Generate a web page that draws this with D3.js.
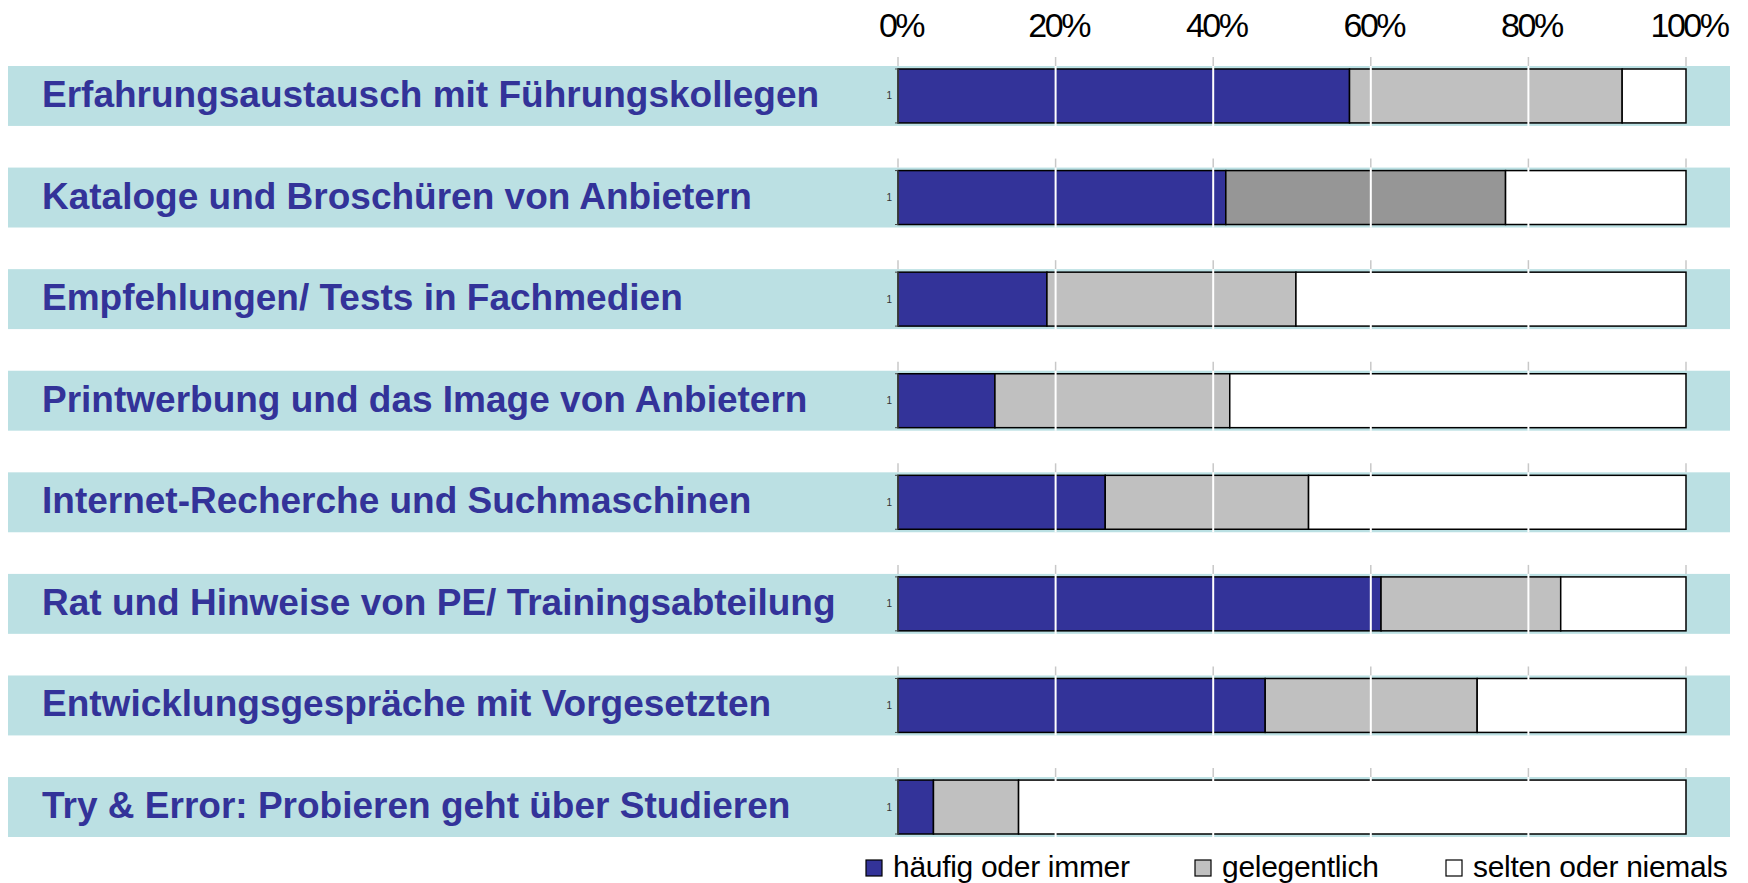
<!DOCTYPE html>
<html>
<head>
<meta charset="utf-8">
<script src="https://cdn.jsdelivr.net/npm/d3@7"></script>
<style>
  html, body { margin: 0; padding: 0; background: #fff; }
  svg { display: block; }
</style>
</head>
<body>
<div id="chart"></div>
<script>
const width = 1748;
const height = 883;

const categories = [
  "Erfahrungsaustausch mit Führungskollegen",
  "Kataloge und Broschüren von Anbietern",
  "Empfehlungen/ Tests in Fachmedien",
  "Printwerbung und das Image von Anbietern",
  "Internet-Recherche und Suchmaschinen",
  "Rat und Hinweise von PE/ Trainingsabteilung",
  "Entwicklungsgespräche mit Vorgesetzten",
  "Try & Error: Probieren geht über Studieren"
];
const frequent = [57.3, 41.6, 18.9, 12.3, 26.3, 61.3, 46.6, 4.5];
const occasional = [34.6, 35.5, 31.6, 29.8, 25.8, 22.8, 26.9, 10.8];
const rarely = [8.1, 22.9, 49.5, 57.9, 47.9, 15.9, 26.5, 84.7];
const seriesNames = ["häufig oder immer", "gelegentlich", "selten oder niemals"];
const tickValues = [0, 20, 40, 60, 80, 100];

const colors = ["#333399", "#C0C0C0", "#FFFFFF"];
const teal = "#BBE0E3";

const rows = categories.map((c, i) => ({
  category: c,
  [seriesNames[0]]: frequent[i],
  [seriesNames[1]]: occasional[i],
  [seriesNames[2]]: rarely[i]
}));

const stack = d3.stack().keys(seriesNames);
const stacked = stack(rows);

const x = d3.scaleLinear().domain([0, 100]).range([898, 1686]);
const y = d3.scaleBand()
  .domain(categories)
  .range([66, 837])
  .paddingInner(0.41)
  .paddingOuter(0);

const svg = d3.select("#chart")
  .append("svg")
  .attr("width", width)
  .attr("height", height);

// teal row bands
svg.selectAll("rect.band")
  .data(categories)
  .enter()
  .append("rect")
  .attr("class", "band")
  .attr("x", 8)
  .attr("y", d => y(d))
  .attr("width", 1722)
  .attr("height", y.bandwidth())
  .attr("fill", teal);

// faint grid stubs above each band
categories.forEach(c => {
  svg.selectAll(null)
    .data(tickValues)
    .enter()
    .append("line")
    .attr("x1", d => x(d))
    .attr("x2", d => x(d))
    .attr("y1", y(c) - 9)
    .attr("y2", y(c))
    .attr("stroke", "#c8c8c8")
    .attr("stroke-width", 1.5);
});

// stacked bars
const barInset = 3;
svg.selectAll("g.series")
  .data(stacked)
  .enter()
  .append("g")
  .attr("class", "series")
  .each(function (s, si) {
    d3.select(this).selectAll("rect")
      .data(s)
      .enter()
      .append("rect")
      .attr("x", d => x(d[0]))
      .attr("y", d => y(d.data.category) + barInset)
      .attr("width", d => x(d[1]) - x(d[0]))
      .attr("height", y.bandwidth() - barInset * 2)
      .attr("fill", d => (si === 1 && d.data.category === categories[1]) ? "#969696" : colors[si])
      .attr("stroke", "#000")
      .attr("stroke-width", 1.5);
  });

// white gridlines over the bars
categories.forEach(c => {
  svg.selectAll(null)
    .data(tickValues.slice(1, -1))
    .enter()
    .append("line")
    .attr("x1", d => x(d))
    .attr("x2", d => x(d))
    .attr("y1", y(c))
    .attr("y2", y(c) + y.bandwidth())
    .attr("stroke", "#fff")
    .attr("stroke-width", 2);
});

// small per-row y axis with the "1" label
categories.forEach(c => {
  const g = svg.append("g");
  const top = y(c) + barInset;
  const bottom = y(c) + y.bandwidth() - barInset;
  g.append("line")
    .attr("x1", x(0)).attr("x2", x(0))
    .attr("y1", top).attr("y2", bottom)
    .attr("stroke", "#444").attr("stroke-width", 1.5);
  [top, bottom].forEach(v => {
    g.append("line")
      .attr("x1", x(0) - 3).attr("x2", x(0))
      .attr("y1", v).attr("y2", v)
      .attr("stroke", "#444").attr("stroke-width", 1);
  });
  g.append("text")
    .attr("x", x(0) - 6)
    .attr("y", y(c) + y.bandwidth() / 2 + 3.5)
    .attr("text-anchor", "end")
    .attr("font-family", "Liberation Sans, Arial, sans-serif")
    .attr("font-size", 10)
    .attr("fill", "#333")
    .text("1");
});

// category labels
svg.selectAll("text.cat")
  .data(categories)
  .enter()
  .append("text")
  .attr("class", "cat")
  .attr("x", 42)
  .attr("y", d => y(d) + y.bandwidth() / 2 + 11)
  .attr("font-family", "Liberation Sans, Arial, sans-serif")
  .attr("font-weight", "bold")
  .attr("font-size", 37)
  .attr("fill", "#333399")
  .text(d => d);

// top axis labels
svg.selectAll("text.tick")
  .data(tickValues)
  .enter()
  .append("text")
  .attr("class", "tick")
  .attr("x", d => x(d) + 3)
  .attr("y", 37)
  .attr("text-anchor", "middle")
  .attr("font-family", "Liberation Sans, Arial, sans-serif")
  .attr("font-size", 34)
  .attr("letter-spacing", -2.5)
  .attr("fill", "#000")
  .text(d => d + "%");

// legend
const legendX = [866, 1195, 1446];
const legend = svg.selectAll("g.legend")
  .data(seriesNames)
  .enter()
  .append("g")
  .attr("class", "legend")
  .attr("transform", (d, i) => `translate(${legendX[i]}, 860)`);

legend.append("rect")
  .attr("width", 16)
  .attr("height", 16)
  .attr("fill", (d, i) => colors[i])
  .attr("stroke", "#000")
  .attr("stroke-width", 1.2);

legend.append("text")
  .attr("x", 27)
  .attr("y", 17)
  .attr("font-family", "Liberation Sans, Arial, sans-serif")
  .attr("font-size", 30)
  .attr("letter-spacing", -0.3)
  .attr("fill", "#000")
  .text(d => d);
</script>
</body>
</html>
